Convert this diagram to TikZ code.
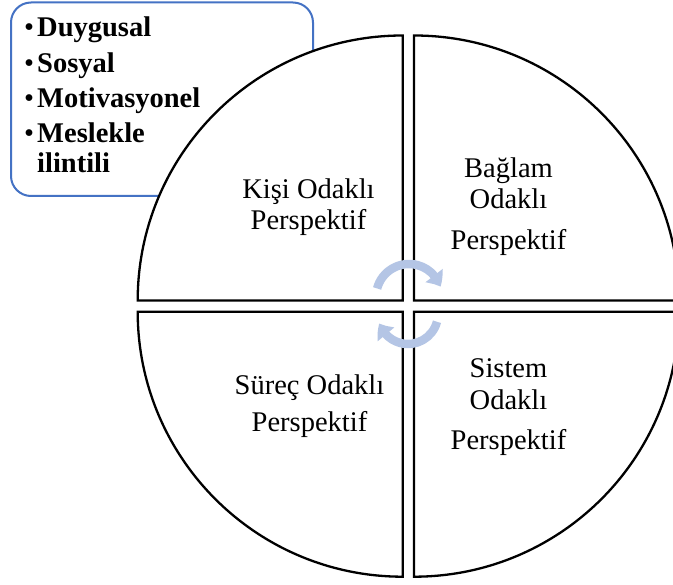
\documentclass[tikz,border=0pt]{standalone}
\usepackage{fontspec}
\setmainfont{Liberation Serif}
\usetikzlibrary{arrows.meta,bending}
\definecolor{boxblue}{RGB}{68,114,196}
\definecolor{cyclearrow}{RGB}{180,197,229}
\tikzset{
  quarter/.style={draw=black, line width=2.3pt, fill=white, line join=miter},
  infobox/.style={draw=boxblue, line width=2pt, rounded corners=20pt, fill=white},
  itemtext/.style={anchor=base west, inner sep=0pt, font=\fontsize{28.5}{31}\selectfont\bfseries},
  bullettext/.style={anchor=base west, inner sep=0pt, font=\fontsize{28.5}{31}\selectfont},
  label/.style={anchor=base, inner sep=0pt, font=\fontsize{28.5}{31}\selectfont},
  cycle/.style={draw=cyclearrow, line width=8.5pt, -{Triangle[width=21pt,length=13pt,bend]}}
}
\begin{document}
\begin{tikzpicture}[x=1pt,y=-1pt]
\useasboundingbox (0,0) rectangle (673,585);
\clip (0,0) rectangle (673,585);

% list box behind the circle
\draw[infobox] (11,2.5) rectangle (313,196);
\foreach \y/\t/\n in {37/Duygusal/d1, 73/Sosyal/d2, 108/Motivasyonel/d3, 143/Meslekle/d4}{
  \node[bullettext] (b\n) at (24,\y) {•};
  \node[itemtext] (\n) at (37,\y) {\t};
}
\node[itemtext] (d5) at (37,173) {ilintili};

% four quarter segments
\def\rad{265}
\coordinate (ctl) at (402.7,300.5);
\coordinate (ctr) at (414,300.5);
\coordinate (cbl) at (402.7,311.7);
\coordinate (cbr) at (414,311.7);
\draw[quarter] (ctl) -- ++(-\rad,0) arc[start angle=180, end angle=270, radius=\rad] -- cycle;
\draw[quarter] (ctr) -- ++(0,-\rad) arc[start angle=270, end angle=360, radius=\rad] -- cycle;
\draw[quarter] (cbr) -- ++(\rad,0) arc[start angle=0, end angle=90, radius=\rad] -- cycle;
\draw[quarter] (cbl) -- ++(0,\rad) arc[start angle=90, end angle=180, radius=\rad] -- cycle;

% quadrant labels
\node[label] (k1) at (308.5,199) {Kişi Odaklı};
\node[label] (k2) at (308.5,230) {Perspektif};
\node[label] (g1) at (508.5,178) {Bağlam};
\node[label] (g2) at (508.5,209) {Odaklı};
\node[label] (g3) at (508.5,250) {Perspektif};
\node[label] (s1) at (309.5,395) {Süreç Odaklı};
\node[label] (s2) at (309.5,432) {Perspektif};
\node[label] (m1) at (508.5,378) {Sistem};
\node[label] (m2) at (508.5,410) {Odaklı};
\node[label] (m3) at (508.5,450) {Perspektif};

% circular arrows in the middle
\coordinate (cyc1) at (409,297);
\coordinate (cyc2) at (408,314);
\draw[cycle] ([shift={(195:33)}]cyc1) arc[start angle=195, end angle=342, radius=33];
\draw[cycle] ([shift={(15:30)}]cyc2) arc[start angle=15, end angle=162, radius=30];
\end{tikzpicture}
\end{document}
